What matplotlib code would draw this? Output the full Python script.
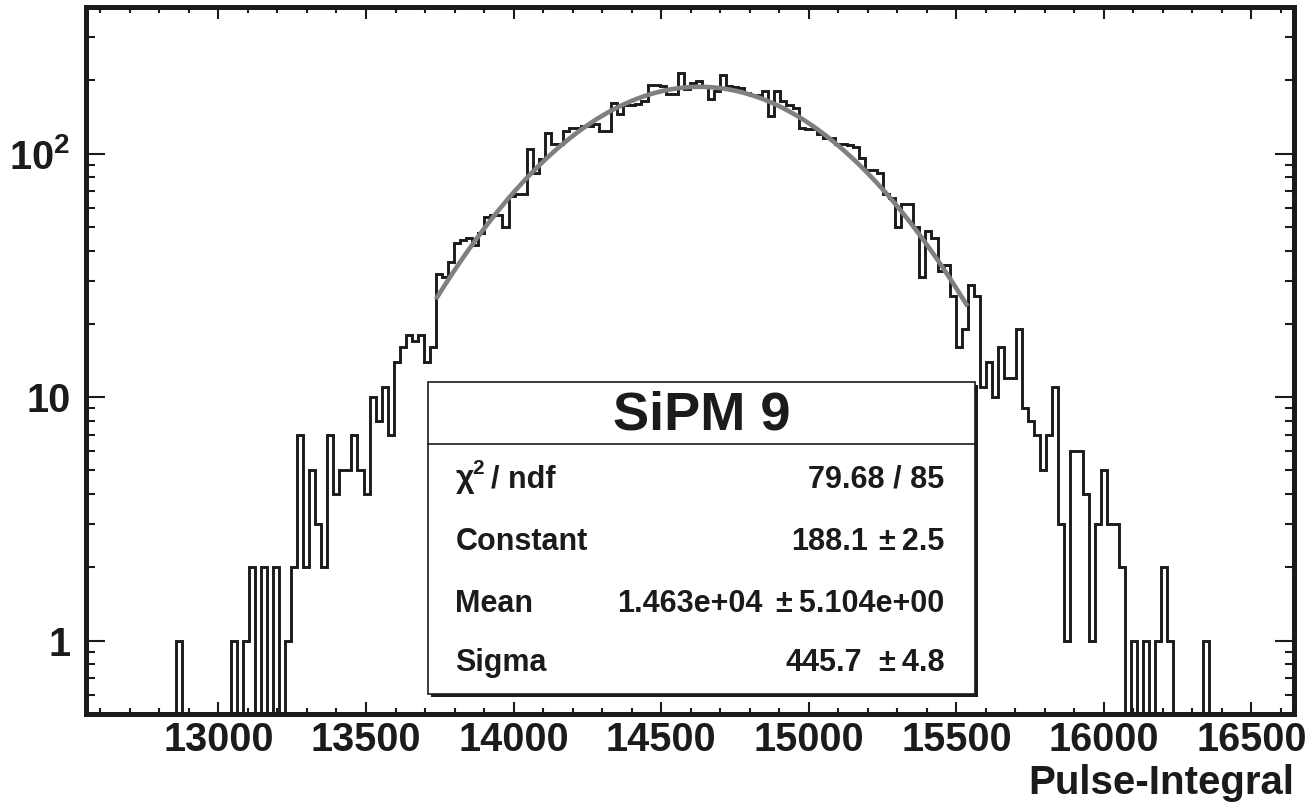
import numpy as np
import matplotlib
matplotlib.use('Agg')
import matplotlib.pyplot as plt
from matplotlib.patches import Rectangle
from matplotlib.ticker import FixedLocator, FixedFormatter, MultipleLocator, NullFormatter

plt.rcParams['font.family'] = ['Liberation Sans', 'DejaVu Sans']
plt.rcParams['font.weight'] = 'bold'
plt.rcParams['mathtext.fontset'] = 'custom'
plt.rcParams['mathtext.rm'] = 'Liberation Sans:bold'
plt.rcParams['mathtext.bf'] = 'Liberation Sans:bold'

# histogram binning (200 bins), counts start at bin 15
x_min, x_max, n_bins = 12550, 16644, 200
first_bin = 15
counts = [1, 0, 0, 0, 0, 0, 0, 0, 0, 1, 0, 1, 2, 0, 2, 0, 2, 0, 1, 2,
          7, 2, 5, 3, 2, 7, 4, 5, 5, 7, 5, 4, 10, 8, 11, 7, 14, 16, 18, 17,
          18, 14, 16, 32, 31, 36, 43, 44, 45, 42, 47, 55, 56, 56, 50, 67, 68, 68, 104, 83,
          95, 122, 110, 110, 124, 128, 128, 130, 130, 132, 124, 124, 162, 146, 158, 158, 160, 165, 191, 191,
          189, 175, 175, 214, 185, 195, 199, 190, 167, 180, 211, 189, 188, 186, 178, 174, 174, 181, 143, 181,
          164, 158, 154, 128, 126, 126, 120, 116, 116, 110, 110, 108, 106, 96, 86, 86, 83, 68, 66, 50,
          62, 62, 50, 31, 48, 45, 33, 35, 26, 16, 19, 29, 26, 11, 14, 10, 16, 12, 12, 19,
          9, 8, 7, 5, 7, 11, 3, 1, 6, 6, 4, 1, 3, 5, 3, 3, 2, 0, 1, 0,
          1, 0, 1, 2, 1, 0, 0, 0, 0, 0, 1]

# gaussian fit
fit_const, fit_mean, fit_sigma = 188.1, 14630, 445.7
fit_lo, fit_hi = 13737, 15538

x_ticks = [13000, 13500, 14000, 14500, 15000, 15500, 16000, 16500]
y_ticks = [1, 10, 100]
y_labels = ['1', '10', r'$\mathbf{10^{2}}$']

stat_names = ['Constant', 'Mean', 'Sigma']
stat_vals = ['188.1', '1.463e+04', '445.7']
stat_errs = ['\u00b1\u20092.5', '\u00b1\u20095.104e+00', '\u00b1\u20094.8']
chi2_text = '79.68 / 85'
title = 'SiPM 9'

ink = '#1c1a1b'
W, H = 1308, 805
fig = plt.figure(figsize=(W / 100, H / 100), dpi=100)
L, R, T, B = 85.6, 1294, 7, 714
ax = fig.add_axes([L / W, 1 - B / H, (R - L) / W, (B - T) / H])

edges = np.linspace(x_min, x_max, n_bins + 1)
vals = np.zeros(n_bins)
vals[first_bin:first_bin + len(counts)] = counts
vals[vals == 0] = 1e-3
ax.stairs(vals, edges, baseline=None, color=ink, lw=2.1, zorder=2)

xs = np.linspace(fit_lo, fit_hi, 400)
ax.plot(xs, fit_const * np.exp(-0.5 * ((xs - fit_mean) / fit_sigma) ** 2),
        color='#808080', lw=3.3, zorder=3, solid_capstyle='butt')

ax.set_xlim(x_min, x_max)
ax.set_yscale('log')
ax.set_ylim(0.5, 400)

ax.xaxis.set_major_locator(FixedLocator(x_ticks))
ax.xaxis.set_minor_locator(MultipleLocator(100))
ax.yaxis.set_major_locator(FixedLocator(y_ticks))
ax.yaxis.set_major_formatter(FixedFormatter(y_labels))
ax.yaxis.set_minor_locator(FixedLocator([m * 10 ** e for e in range(-1, 3) for m in range(2, 10)]))
ax.yaxis.set_minor_formatter(NullFormatter())

ax.tick_params(which='both', direction='in', top=True, right=True, color=ink, width=1.5)
ax.tick_params(axis='x', which='major', length=8.5, labelsize=28.5, pad=5)
ax.tick_params(axis='x', which='minor', length=4.3)
ax.tick_params(axis='y', which='major', length=13.5, labelsize=28.5, pad=11)
ax.tick_params(axis='y', which='minor', length=6.5)
for lab in ax.get_xticklabels() + ax.get_yticklabels():
    lab.set_fontweight('bold')
    lab.set_color(ink)
for sp in ax.spines.values():
    sp.set_linewidth(3.6)
    sp.set_color(ink)

fig.text(R / W, 1 - 794 / H, 'Pulse-Integral', ha='right', va='baseline',
         fontsize=29, fontweight='bold', color=ink)

# stats box
bx0, by0, bx1, by1 = 428, 382, 975, 694


def fxy(x, y):
    return x / W, 1 - y / H


sh = Rectangle(fxy(bx0 + 3, by1 + 3), (bx1 - bx0) / W, (by1 - by0) / H,
               transform=fig.transFigure, facecolor=ink, edgecolor='none', zorder=5)
box = Rectangle(fxy(bx0, by1), (bx1 - bx0) / W, (by1 - by0) / H,
                transform=fig.transFigure, facecolor='white', edgecolor=ink, lw=1.2, zorder=6)
fig.patches.extend([sh, box])
fig.lines.append(plt.Line2D([bx0 / W, bx1 / W], [1 - 444 / H] * 2, transform=fig.transFigure,
                            color=ink, lw=1.2, zorder=7))

fig.text(*fxy(701.5, 415), title, ha='center', va='center', fontsize=39,
         fontweight='bold', color=ink, zorder=8)

fs = 22
name_x, err_r = 455.5, 944.6
val_r = [868, 762.6, 862.5]
rows_y = [550, 612, 671]
fig.text(*fxy(name_x, 487), '\u03c7', ha='left', va='baseline', fontsize=fs + 1,
         fontweight='bold', color=ink, zorder=8)
fig.text(*fxy(472, 474), '2', ha='left', va='baseline', fontsize=15,
         fontweight='bold', color=ink, zorder=8)
fig.text(*fxy(491, 487), '/ ndf', ha='left', va='baseline', fontsize=fs,
         fontweight='bold', color=ink, zorder=8)
fig.text(*fxy(err_r, 487), chi2_text, ha='right', va='baseline', fontsize=fs,
         fontweight='bold', color=ink, zorder=8)
for name, v, e, vr, yy in zip(stat_names, stat_vals, stat_errs, val_r, rows_y):
    fig.text(*fxy(name_x, yy), name, ha='left', va='baseline', fontsize=fs,
             fontweight='bold', color=ink, zorder=8)
    fig.text(*fxy(vr, yy), v, ha='right', va='baseline', fontsize=fs,
             fontweight='bold', color=ink, zorder=8)
    fig.text(*fxy(err_r, yy), e, ha='right', va='baseline', fontsize=fs,
             fontweight='bold', color=ink, zorder=8)

fig.savefig('out.png', dpi=100)
